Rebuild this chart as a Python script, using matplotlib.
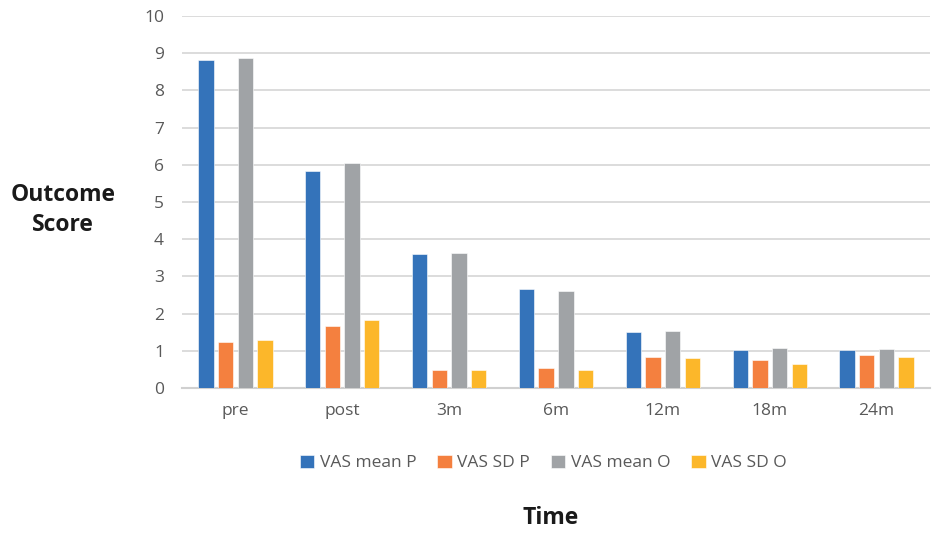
import matplotlib
matplotlib.use("Agg")
import matplotlib.pyplot as plt
import numpy as np

categories = ["pre", "post", "3m", "6m", "12m", "18m", "24m"]
series_names = ["VAS mean P", "VAS SD P", "VAS mean O", "VAS SD O"]
vas_mean_p = [8.81, 5.84, 3.61, 2.67, 1.51, 1.02, 1.02]
vas_sd_p = [1.25, 1.68, 0.48, 0.53, 0.84, 0.74, 0.88]
vas_mean_o = [8.86, 6.04, 3.64, 2.61, 1.53, 1.07, 1.04]
vas_sd_o = [1.28, 1.82, 0.48, 0.48, 0.80, 0.64, 0.82]
y_ticks = list(range(0, 11))

colors = ["#3473BA", "#F4803F", "#A0A3A6", "#FCB72A"]
plt.rcParams['font.family'] = ['Open Sans', 'DejaVu Sans']

fig = plt.figure(figsize=(9.37, 5.34), dpi=100)
ax = fig.add_axes([182/937, 1-388/534, (930-182)/937, (388-16)/534])

x = np.arange(len(categories))
pitch = 0.184
width = 0.144
all_series = [vas_mean_p, vas_sd_p, vas_mean_o, vas_sd_o]
for i, (vals, name, c) in enumerate(zip(all_series, series_names, colors)):
    ax.bar(x + (i - 1.5) * pitch, vals, width=width, color=c, label=name,
           edgecolor="white", linewidth=0.4, zorder=3)

ax.set_xlim(-0.5, len(categories) - 0.5)
ax.set_ylim(0, 10)
ax.set_yticks(y_ticks)
ax.set_xticks(x)
ax.set_xticklabels(categories)
ax.yaxis.grid(True, color="#D9D9D9", linewidth=1.3, zorder=0)
ax.set_axisbelow(True)
for s in ["top", "right", "left"]:
    ax.spines[s].set_visible(False)
ax.spines["bottom"].set_color("#D0D0D0")
ax.spines["bottom"].set_linewidth(1.5)
ax.tick_params(axis="both", length=0, labelsize=12.5, colors="#595959")
ax.tick_params(axis="y", pad=13)
ax.tick_params(axis="x", pad=11)

fig.text(63/937, 1-210/534, "Outcome\nScore", ha="center", va="center",
         fontsize=16.5, fontweight="bold", color="#1A1A1A", linespacing=1.35)
fig.text(551/937, 1-518/534, "Time", ha="center", va="center",
         fontsize=16.5, fontweight="bold", color="#1A1A1A")

leg = fig.legend(loc="center", bbox_to_anchor=(543/937, 1-463/534), ncol=4,
                 frameon=False, fontsize=12.5, handlelength=0.85, handleheight=0.85,
                 handletextpad=0.3, columnspacing=1.2)
for t in leg.get_texts():
    t.set_color("#595959")

fig.savefig("out.png", dpi=100)
